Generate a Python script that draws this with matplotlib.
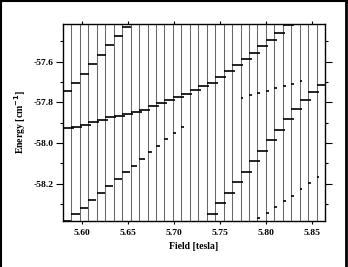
import numpy as np
import matplotlib
matplotlib.use("Agg")
import matplotlib.pyplot as plt
from matplotlib.lines import Line2D

# field sample boundaries (tesla)
edges = [5.5794, 5.5886, 5.5978, 5.6069, 5.6161, 5.6253, 5.6345, 5.6436,
         5.6528, 5.6620, 5.6712, 5.6803, 5.6895, 5.6987, 5.7079, 5.7170,
         5.7262, 5.7354, 5.7446, 5.7537, 5.7629, 5.7721, 5.7813, 5.7904,
         5.7996, 5.8088, 5.8180, 5.8271, 5.8363, 5.8455, 5.8547, 5.8638]

# energy levels per field step: (step index, energy in cm^-1)
steep_top_idx = [0, 1, 2, 3, 4, 5, 6, 7]
steep_top_E = [-57.746, -57.705, -57.661, -57.612, -57.567, -57.521, -57.476, -57.432]

steep_low_idx = [0, 1, 2, 3, 4, 5, 6, 7, 8, 9, 10, 11, 12, 13, 14]
steep_low_E = [-58.380, -58.349, -58.317, -58.279, -58.246, -58.210, -58.177, -58.143,
               -58.111, -58.078, -58.044, -58.012, -57.980, -57.949, -57.922]
steep_low_w = [0.95, 0.95, 0.95, 0.95, 0.95, 0.95, 0.95, 0.95,
               0.75, 0.75, 0.55, 0.5, 0.45, 0.35, 0.3]

shallow_idx = list(range(27))
shallow_E = [-57.927, -57.920, -57.910, -57.898, -57.887, -57.874, -57.866, -57.859,
             -57.846, -57.838, -57.818, -57.801, -57.788, -57.772, -57.757, -57.741,
             -57.721, -57.703, -57.675, -57.646, -57.619, -57.586, -57.558, -57.525,
             -57.493, -57.460, -57.422]

right_idx = [17, 18, 19, 20, 21, 22, 23, 24, 25, 26, 27, 28, 29, 30]
right_E = [-58.347, -58.294, -58.245, -58.193, -58.143, -58.090, -58.038, -57.985,
           -57.934, -57.884, -57.833, -57.788, -57.747, -57.716]

dots_up_idx = [21, 22, 23, 24, 25, 26, 27, 28]
dots_up_E = [-57.780, -57.764, -57.755, -57.743, -57.731, -57.720, -57.710, -57.694]

dots_low_idx = [23, 24, 25, 26, 27, 28, 29, 30]
dots_low_E = [-58.366, -58.341, -58.313, -58.284, -58.258, -58.225, -58.196, -58.165]

xlim = (5.5794, 5.8638)
ylim = (-58.382, -57.416)

plt.rcParams['font.family'] = ['Liberation Serif', 'DejaVu Serif']
plt.rcParams['font.weight'] = 'bold'

fig = plt.figure(figsize=(3.48, 2.67), dpi=100)
ax = fig.add_axes([63 / 348, 46 / 267, 262 / 348, 197 / 267])

bw = edges[1] - edges[0]

# jumps between field steps
ax.vlines(edges[1:-1], ylim[0], ylim[1], color="0.3", lw=0.75, alpha=0.85)


def levels(idx, E, w, lw=1.2):
    if np.isscalar(w):
        w = [w] * len(idx)
    x0 = np.array([edges[i] for i in idx])
    x1 = np.minimum(x0 + np.array(w) * bw, xlim[1])
    ax.hlines(E, x0, x1, color="black", lw=lw)


levels(steep_top_idx, steep_top_E, 1.05)
levels(steep_low_idx, steep_low_E, steep_low_w)
levels(shallow_idx, shallow_E, 1.3)
levels(right_idx, right_E, 1.3)
levels(dots_up_idx, dots_up_E, 0.33, lw=1.2)
levels(dots_low_idx, dots_low_E, 0.33, lw=1.2)

ax.set_xlim(*xlim)
ax.set_ylim(*ylim)
ax.set_xticks([5.60, 5.65, 5.70, 5.75, 5.80, 5.85])
ax.set_xticklabels(["5.60", "5.65", "5.70", "5.75", "5.80", "5.85"])
ax.set_yticks([-57.6, -57.8, -58.0, -58.2])
ax.set_yticklabels(["-57.6", "-57.8", "-58.0", "-58.2"])
ax.set_yticks([-57.5, -57.7, -57.9, -58.1, -58.3], minor=True)
ax.tick_params(axis="x", direction="out", length=2.5, width=0.8, pad=3,
               labelsize=6.8, top=True)
ax.tick_params(axis="y", which="major", direction="out", length=5, width=0.8,
               pad=1.5, labelsize=6.8, right=True)
ax.tick_params(axis="y", which="minor", direction="out", length=2.5, width=0.8,
               right=True)
for s in ax.spines.values():
    s.set_linewidth(1.0)

ax.set_xlabel("Field [tesla]", fontsize=7, fontweight="bold", labelpad=4)
ax.set_ylabel("Energy [cm$^{-1}$]", fontsize=7, fontweight="bold", labelpad=4)

# scanned page frame
fig.add_artist(Line2D([0.004, 0.004], [0, 1], transform=fig.transFigure, color="black", lw=1.5))
fig.add_artist(Line2D([0, 1], [0.996, 0.996], transform=fig.transFigure, color="black", lw=1.5))
fig.add_artist(Line2D([0.994, 0.994], [0, 1], transform=fig.transFigure, color="black", lw=2.0))

fig.savefig("out.png", dpi=100)
